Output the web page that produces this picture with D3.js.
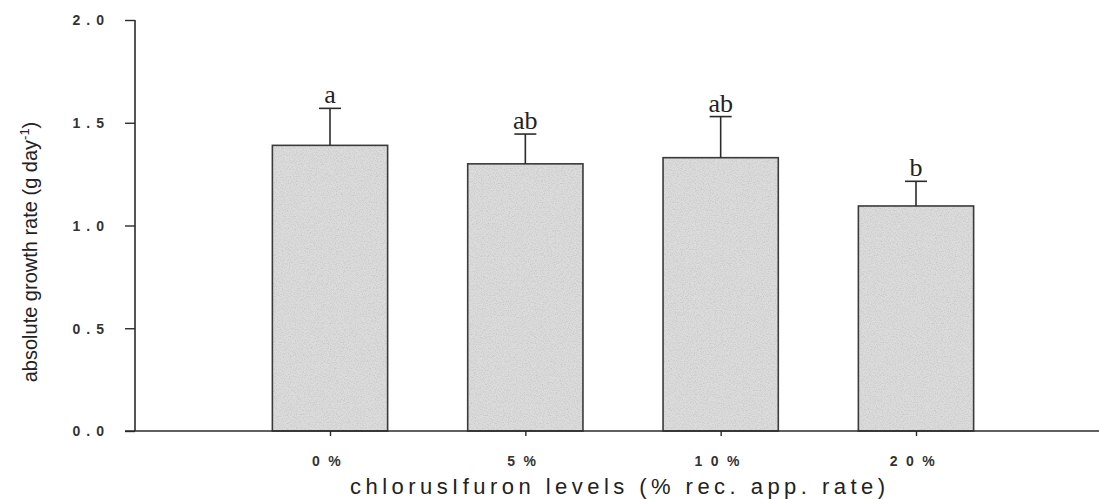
<!DOCTYPE html>
<html>
<head>
<meta charset="utf-8">
<script src="https://cdn.jsdelivr.net/npm/d3@7"></script>
<style>
  html, body { margin: 0; padding: 0; background: #fff; }
  svg { display: block; }
</style>
</head>
<body>
<svg id="chart" width="1099" height="499"></svg>
<script>
// Absolute growth rate by chlorsulfuron level (mean + upper SE, letters = significance groups)
const categories = ["0%", "5%", "10%", "20%"];
const means      = [1.39, 1.30, 1.33, 1.095];
const errTops    = [1.57, 1.445, 1.53, 1.215];
const groups     = ["a", "ab", "ab", "b"];
const yTicks     = [0, 0.5, 1.0, 1.5, 2.0];

const svg = d3.select("#chart");
const ink = "#2b2b2b";

const y = d3.scaleLinear().domain([0, 2]).range([431, 20]);
const x = d3.scalePoint().domain(categories).range([330, 916]);
const barW = x.step() * 0.59;

// grainy grey fill for the bars
const defs = svg.append("defs");
const f = defs.append("filter").attr("id", "grain")
  .attr("x", 0).attr("y", 0).attr("width", 1).attr("height", 1);
f.append("feTurbulence").attr("type", "fractalNoise")
  .attr("baseFrequency", 0.85).attr("numOctaves", 2).attr("seed", 7).attr("result", "noise");
f.append("feColorMatrix").attr("in", "noise").attr("type", "matrix")
  .attr("values", "0 0 0 0 0.45  0 0 0 0 0.45  0 0 0 0 0.45  -1.2 0 0 0 0.7")
  .attr("result", "speck");
f.append("feComposite").attr("in", "speck").attr("in2", "SourceGraphic").attr("operator", "in");

// bars
const bars = svg.append("g");
bars.selectAll("rect.fill").data(means).join("rect")
  .attr("class", "fill")
  .attr("x", (d, i) => x(categories[i]) - barW / 2)
  .attr("y", d => y(d))
  .attr("width", barW)
  .attr("height", d => y(0) - y(d))
  .attr("fill", "#dcdcdc");
bars.selectAll("rect.grain").data(means).join("rect")
  .attr("class", "grain")
  .attr("x", (d, i) => x(categories[i]) - barW / 2)
  .attr("y", d => y(d))
  .attr("width", barW)
  .attr("height", d => y(0) - y(d))
  .attr("fill", "#000")
  .attr("filter", "url(#grain)");
bars.selectAll("rect.edge").data(means).join("rect")
  .attr("class", "edge")
  .attr("x", (d, i) => x(categories[i]) - barW / 2)
  .attr("y", d => y(d))
  .attr("width", barW)
  .attr("height", d => y(0) - y(d))
  .attr("fill", "none")
  .attr("stroke", "#3a3a3a")
  .attr("stroke-width", 1.6);

// upper error bars
const err = svg.append("g").attr("stroke", ink).attr("stroke-width", 1.6);
err.selectAll("line.stem").data(means).join("line")
  .attr("x1", (d, i) => x(categories[i])).attr("x2", (d, i) => x(categories[i]))
  .attr("y1", d => y(d)).attr("y2", (d, i) => y(errTops[i]));
err.selectAll("line.cap").data(errTops).join("line")
  .attr("x1", (d, i) => x(categories[i]) - 11).attr("x2", (d, i) => x(categories[i]) + 11)
  .attr("y1", d => y(d)).attr("y2", d => y(d));

// significance letters
svg.append("g").selectAll("text").data(groups).join("text")
  .attr("x", (d, i) => x(categories[i]))
  .attr("y", (d, i) => y(errTops[i]) - 5)
  .attr("text-anchor", "middle")
  .attr("font-family", "'Liberation Serif', 'Times New Roman', serif")
  .attr("font-size", 26)
  .attr("fill", "#222")
  .text(d => d);

// y axis
const yAxis = svg.append("g").attr("transform", "translate(135,0)")
  .call(d3.axisLeft(y).tickValues(yTicks).tickSize(10).tickPadding(15)
    .tickFormat(d3.format(".1f")));
yAxis.select(".domain").attr("stroke", ink).attr("stroke-width", 1.6).attr("d", `M0,${y(2)}V${y(0)}`);
yAxis.selectAll(".tick line").attr("stroke", ink).attr("stroke-width", 1.4);
yAxis.selectAll(".tick text")
  .attr("font-family", "'Liberation Sans', Arial, sans-serif")
  .attr("font-weight", "bold").attr("font-size", 14)
  .attr("letter-spacing", "6px").attr("fill", "#333").attr("dy", "0.35em");

// x axis
svg.append("line").attr("x1", 125).attr("x2", 1099).attr("y1", y(0)).attr("y2", y(0))
  .attr("stroke", ink).attr("stroke-width", 1.6);
const xAxis = svg.append("g").attr("transform", `translate(0,${y(0)})`)
  .call(d3.axisBottom(x).tickSize(5).tickPadding(20));
xAxis.select(".domain").remove();
xAxis.selectAll(".tick line").attr("stroke", ink).attr("stroke-width", 1.4);
xAxis.selectAll(".tick text")
  .attr("font-family", "'Liberation Sans', Arial, sans-serif")
  .attr("font-weight", "bold").attr("font-size", 14)
  .attr("letter-spacing", "8.5px").attr("fill", "#333");

// axis titles
svg.append("text")
  .attr("x", 350).attr("y", 494)
  .attr("textLength", 535).attr("lengthAdjust", "spacing")
  .attr("font-family", "'Liberation Sans Narrow', 'Liberation Sans', Arial, sans-serif")
  .attr("font-size", 22).attr("fill", "#222")
  .text("chlorusIfuron levels (% rec. app. rate)");

const yt = svg.append("text")
  .attr("transform", "translate(37,252) rotate(-90)")
  .attr("text-anchor", "middle")
  .attr("font-family", "'Liberation Sans', Arial, sans-serif")
  .attr("font-size", 20).attr("fill", "#222");
yt.append("tspan").text("absolute growth rate (g day");
yt.append("tspan").attr("dy", -8).attr("font-size", 13).text("-1");
yt.append("tspan").attr("dy", 8).text(")");
</script>
</body>
</html>
